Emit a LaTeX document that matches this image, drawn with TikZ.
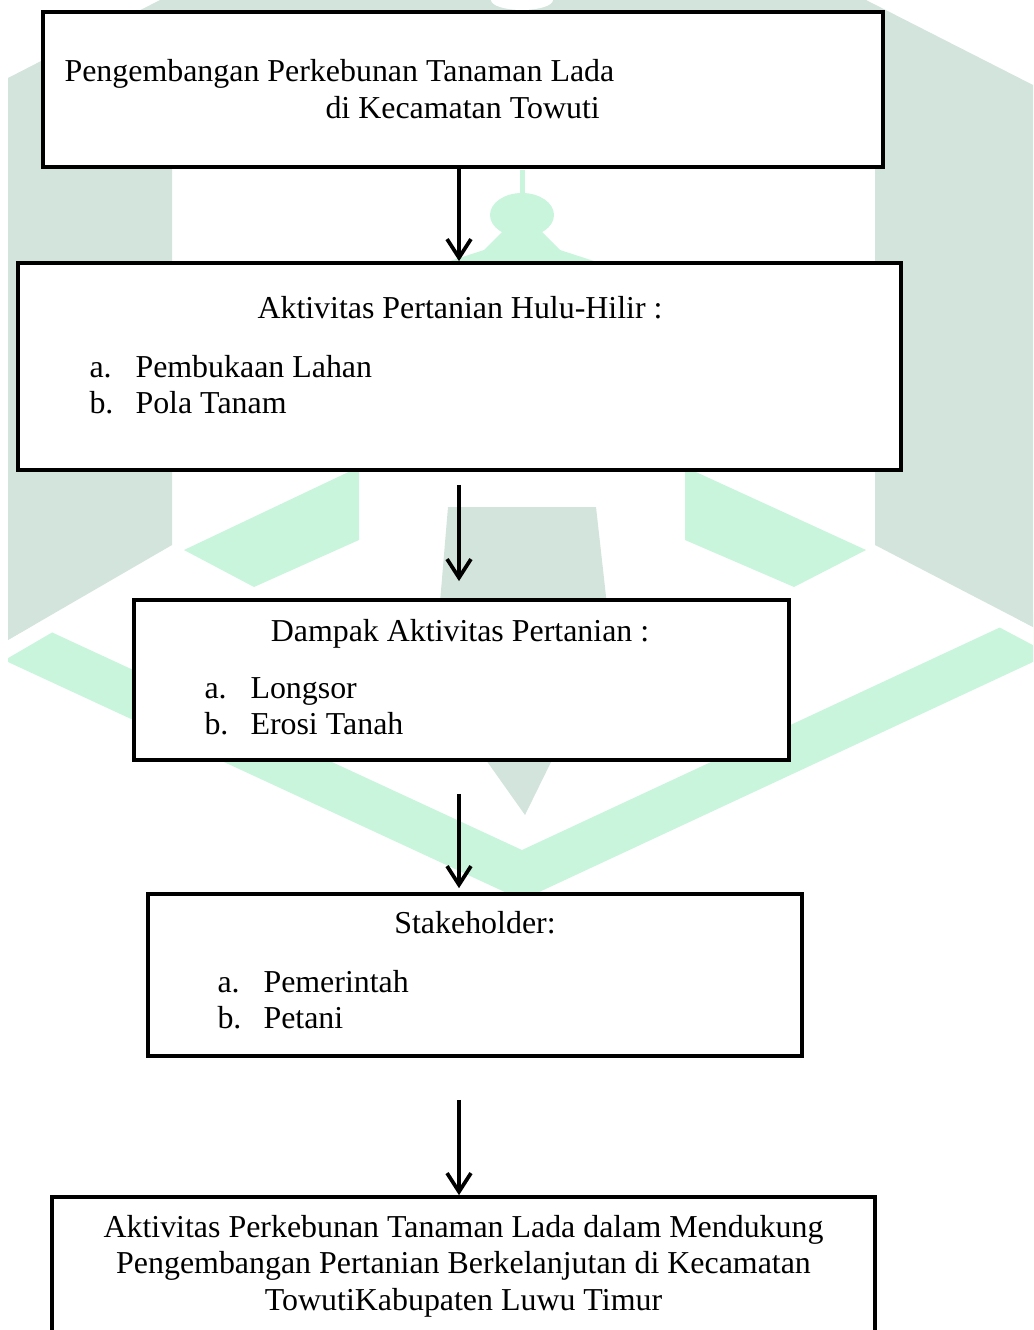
\documentclass[tikz,border=0pt]{standalone}
\usepackage{fontspec}
\setmainfont{Liberation Serif}
\usetikzlibrary{arrows.meta,fit}
\definecolor{wmgray}{RGB}{211,228,220}
\definecolor{wmmint}{RGB}{200,245,220}
\newcommand{\lbl}[1]{\makebox[17.3pt][l]{#1}}

\begin{document}
\begin{tikzpicture}[
  x=0.3761pt, y=-0.3761pt,
  font=\fontsize{12}{13.8}\selectfont,
  box/.style={draw=black,fill=white,line width=1.4pt,inner sep=0pt},
  txt/.style={anchor=base west,inner sep=0pt},
  head/.style={anchor=base,inner sep=0pt},
  flow/.style={draw=black,line width=1.4pt,-{Straight Barb[length=7pt,width=9pt]}}
]
  \useasboundingbox (0,0) rectangle (1033,1330);
  \clip (0,0) rectangle (1033,1330);

  % watermark in the background
  \fill[wmmint] (8,612) -- (522,850) -- (1033,612) -- (1033,662) -- (522,900) -- (8,662) -- cycle;
  \fill[white] (8,640) -- (172,545) -- (190,552) -- (8,658) -- cycle;
  \fill[white] (1033,627) -- (875,545) -- (857,552) -- (1033,645) -- cycle;
  \fill[wmgray] (8,78) -- (160,0) -- (866,0) -- (1033,85) -- (1033,627) -- (875,545)
    -- (875,12) -- (172,12) -- (172,545) -- (8,640) -- cycle;
  \fill[white] (522,0) ellipse [x radius=31, y radius=10];
  \fill[wmgray] (448,507) -- (596,507) -- (612,650) -- (552,760) -- (525,815)
    -- (486,760) -- (436,650) -- cycle;
  \fill[wmmint] (184,550) -- (359,467) -- (359,540) -- (254,587) -- cycle;
  \fill[wmmint] (685,467) -- (866,550) -- (794,587) -- (685,540) -- cycle;
  \fill[wmmint] (520,170) rectangle (525,200);
  \fill[wmmint] (522,215) ellipse [x radius=32, y radius=22];
  \fill[wmmint] (502,232) -- (542,232) -- (560,250) -- (600,263) -- (444,263) -- (484,250) -- cycle;

  % boxes
  \node[box, fit={(43,12) (883,167)}] (pkb) {};
  \node[box, fit={(18,263) (901,470)}] (hulu) {};
  \node[box, fit={(134,600) (789,760)}] (dampak) {};
  \node[box, fit={(148,894) (802,1056)}] (stake) {};
  \node[box, fit={(52,1197) (875,1345)}] (hasil) {};

  % texts
  \node[txt] (pkbA) at (64,82) {Pengembangan Perkebunan Tanaman Lada};
  \node[txt] (pkbB) at (325,119) {di Kecamatan Towuti};

  \node[head] (huluT) at (460,318) {Aktivitas Pertanian Hulu-Hilir :};
  \node[txt] (huluA) at (89,377) {\lbl{a.}Pembukaan Lahan};
  \node[txt] (huluB) at (89,413) {\lbl{b.}Pola Tanam};

  \node[head] (dampakT) at (460,641) {Dampak Aktivitas Pertanian :};
  \node[txt] (dampakA) at (204,698) {\lbl{a.}Longsor};
  \node[txt] (dampakB) at (204,734) {\lbl{b.}Erosi Tanah};

  \node[head] (stakeT) at (475,933) {Stakeholder:};
  \node[txt] (stakeA) at (217,992) {\lbl{a.}Pemerintah};
  \node[txt] (stakeB) at (217,1028) {\lbl{b.}Petani};

  \node[head] (hasilA) at (463.5,1237) {Aktivitas Perkebunan Tanaman Lada dalam Mendukung};
  \node[head] (hasilB) at (463.5,1273) {Pengembangan Pertanian Berkelanjutan di Kecamatan};
  \node[head] (hasilC) at (463.5,1310) {TowutiKabupaten Luwu Timur};

  % arrows
  \coordinate (ax) at (459,0);
  \draw[flow] (pkb.south -| ax) -- (hulu.north -| ax);
  \draw[flow, shorten <=4.9pt, shorten >=6.4pt] (hulu.south -| ax) -- (dampak.north -| ax);
  \draw[flow, shorten <=12pt, shorten >=1.5pt] (dampak.south -| ax) -- (stake.north -| ax);
  \draw[flow, shorten <=15.8pt] (stake.south -| ax) -- (hasil.north -| ax);
\end{tikzpicture}
\end{document}
